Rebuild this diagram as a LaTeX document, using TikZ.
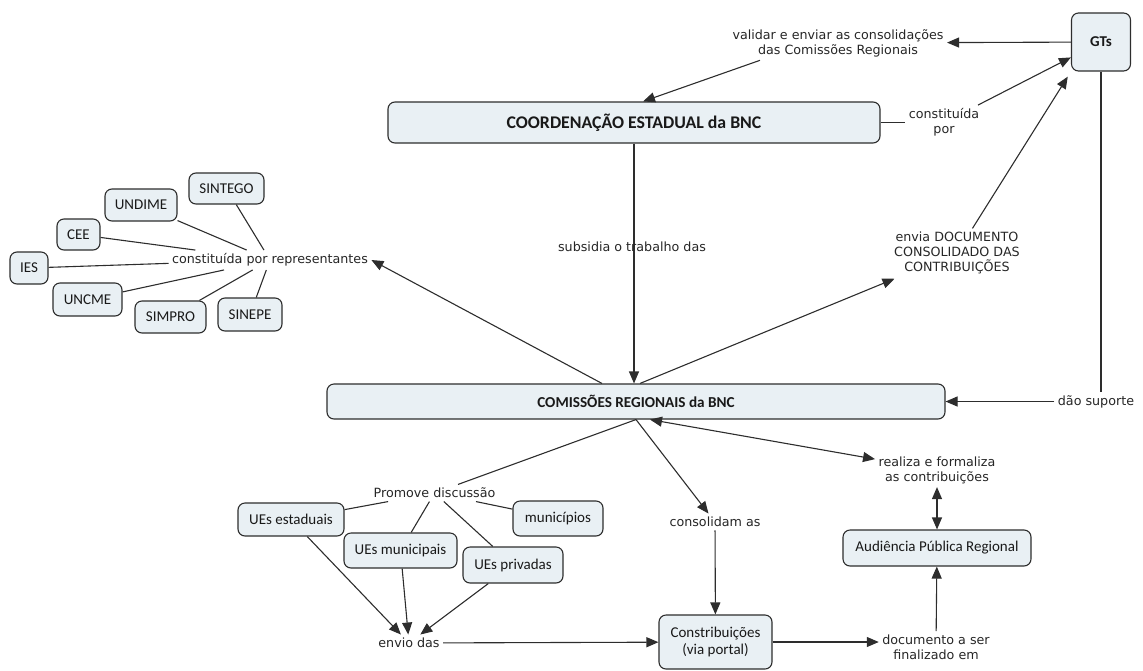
\documentclass[tikz,border=0pt]{standalone}
\usepackage{fontspec}
\usetikzlibrary{arrows.meta}
\newfontfamily\cfont{Carlito}
\newfontfamily\lfont{DejaVu Sans}
\definecolor{cfill}{RGB}{233,240,244}
\definecolor{cline}{RGB}{45,45,45}

\begin{document}
\begin{tikzpicture}[x=1pt,y=1pt,>={Triangle[length=12pt,width=10pt]},line width=1.1pt,draw=cline]
	\tikzstyle{concept}=[draw=cline,fill=cfill,rounded corners=7pt,inner sep=0pt,text=black!90,align=center,font=\cfont\fontsize{15}{17}\selectfont]
	\tikzstyle{linkword}=[inner sep=3pt,text=black!85,align=center,font=\lfont\fontsize{12.7}{15}\selectfont]
	\useasboundingbox (0,0) rectangle (1143,-670);
	% main concepts
	\node [concept,minimum width=59,minimum height=58,font=\cfont\bfseries\fontsize{15}{17}\selectfont] (gts) at (1101,-42) {GTs};
	\node [concept,minimum width=492,minimum height=41,font=\cfont\bfseries\fontsize{17.8}{20}\selectfont] (coord) at (634,-122.5) {COORDENAÇÃO ESTADUAL da BNC};
	\node [concept,minimum width=618,minimum height=35,font=\cfont\bfseries\fontsize{15.2}{17}\selectfont] (comreg) at (636,-401.5) {COMISSÕES REGIONAIS da BNC};
	% representantes
	\node [concept,minimum width=75,minimum height=31] (sintego) at (226.5,-188.5) {SINTEGO};
	\node [concept,minimum width=72,minimum height=32] (undime) at (141,-205) {UNDIME};
	\node [concept,minimum width=43,minimum height=31] (cee) at (78.5,-234.5) {CEE};
	\node [concept,minimum width=38,minimum height=32] (ies) at (29,-268) {IES};
	\node [concept,minimum width=69,minimum height=33] (uncme) at (87.5,-299.5) {UNCME};
	\node [concept,minimum width=71,minimum height=32] (simpro) at (170.5,-317) {SIMPRO};
	\node [concept,minimum width=64,minimum height=33] (sinepe) at (250,-314.5) {SINEPE};
	% discussao
	\node [concept,minimum width=106,minimum height=33] (estaduais) at (291,-519.5) {UEs estaduais};
	\node [concept,minimum width=113,minimum height=35] (municipais) at (400.5,-550.5) {UEs municipais};
	\node [concept,minimum width=100,minimum height=36] (privadas) at (513,-565) {UEs privadas};
	\node [concept,minimum width=90,minimum height=35] (municipios) at (558,-518.5) {municípios};
	\node [concept,minimum width=113,minimum height=54] (contrib) at (715.5,-642) {Constribuições\\(via portal)};
	\node [concept,minimum width=188,minimum height=36] (audiencia) at (937,-548) {Audiência Pública Regional};
	% linking words
	\node [linkword] (validar) at (838,-43) {validar e enviar as consolidações\\das Comissões Regionais};
	\node [linkword] (constpor) at (944,-122.5) {constituída\\por};
	\node [linkword] (envia) at (957,-253) {envia DOCUMENTO\\CONSOLIDADO DAS\\CONTRIBUIÇÕES};
	\node [linkword] (constrep) at (270,-260) {constituída por representantes};
	\node [linkword] (daosup) at (1096,-401.5) {dão suporte};
	\node [linkword] (promove) at (434.5,-493) {Promove discussão};
	\node [linkword] (consol) at (715,-522) {consolidam as};
	\node [linkword] (realiza) at (937,-470) {realiza e formaliza\\as contribuições};
	\node [linkword] (envio) at (409,-643) {envio das};
	\node [linkword] (docfinal) at (936,-647) {documento a ser\\finalizado em};
	% connectors
	\draw [->] (gts) -- (validar);
	\draw [->] ([xshift=-78]validar.south) -- ([xshift=9]coord.north);
	\draw (coord) -- (constpor);
	\draw [->] (constpor) -- (gts);
	\draw [->] (coord) -- (coord |- comreg.north);
	\node [linkword] (subsidia) at (632,-247) {subsidia o trabalho das};
	\draw [->,shorten >=3pt] ([xshift=4]comreg.north) -- (envia);
	\draw [->,shorten >=6pt] (envia) -- (gts.south west);
	\draw [->] ([xshift=-34]comreg.north) -- (constrep.east);
	\draw (gts) -- (gts |- daosup.north);
	\draw [->] (daosup) -- (comreg);
	\foreach \b in {sintego,undime,cee,ies,uncme,simpro,sinepe}
		\draw (\b) -- (constrep);
	\draw (comreg.south) -- (promove);
	\draw [->] (comreg.south) -- (consol);
	\draw [<->] ([xshift=14]comreg.south) -- (realiza);
	\foreach \b in {estaduais,municipais,privadas,municipios}
		\draw (promove) -- (\b);
	\foreach \b in {estaduais,municipais,privadas}
		\draw [->] (\b) -- (envio);
	\draw [->] (envio) -- (contrib);
	\draw [->] (consol) -- (contrib);
	\draw [->] (contrib.east) -- (contrib.east -| docfinal.west);
	\draw [->] (docfinal) -- (audiencia);
	\draw [<->] (realiza) -- (audiencia);
\end{tikzpicture}
\end{document}
